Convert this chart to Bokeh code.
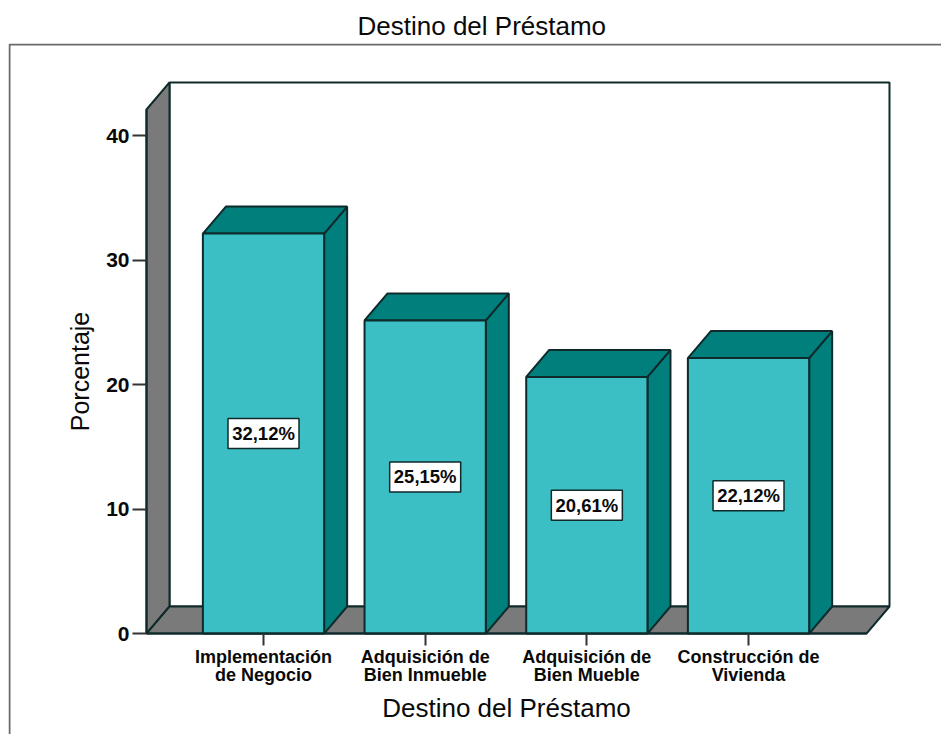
from bokeh.core.properties import value
from bokeh.embed import file_html
from bokeh.models import ColumnDataSource, FixedTicker, Label, Range1d
from bokeh.plotting import figure
from bokeh.resources import INLINE

# Loan purposes and their share of the total, in percent
categories = ["Implementación\nde Negocio", "Adquisición de\nBien Inmueble",
              "Adquisición de\nBien Mueble", "Construcción de\nVivienda"]
percentages = [32.12, 25.15, 20.61, 22.12]
percent_labels = ["32,12%", "25,15%", "20,61%", "22,12%"]
y_ticks = [0, 10, 20, 30, 40]

TITLE = "Destino del Préstamo"
Y_LABEL = "Porcentaje"

FONT = "Liberation Sans"
INK = "#0A0A0A"
FRONT = "#3BBFC4"
SHADE = "#007F7D"
WALL = "#7A7A7A"
EDGE = "#0E2A2B"

# View limits: the plot area fills the chart's outer frame, axes sit inside it
VIEW_X = (-1.5773, 4.1937)
VIEW_Y = (-8.11, 47.39)

# Extent of the plot box and the oblique offset that fakes its depth
X_MIN, X_MAX = -0.7237, 3.872
Y_MIN, Y_MAX = 0.0, 44.26
DEPTH_X, DEPTH_Y = 0.1423, 2.17
BAR_HALF = 0.375

p = figure(width=941, height=734, output_backend="svg", toolbar_location=None,
           x_range=Range1d(*VIEW_X), y_range=Range1d(*VIEW_Y),
           min_border_left=8, min_border_right=0, min_border_top=43, min_border_bottom=0,
           background_fill_color="white", border_fill_color="white", outline_line_color=None)
p.grid.visible = False

front_right = X_MAX - DEPTH_X
front_top = Y_MAX - DEPTH_Y

# Chart title above the frame
p.title.text = TITLE
p.title.align = "left"
p.title.offset = 349
p.title.standoff = 6
p.title.text_font = FONT
p.title.text_font_size = "26px"
p.title.text_font_style = "normal"
p.title.text_color = INK

# Outer frame: only its left and top sides fall inside the page
frame_left = VIEW_X[0] + 0.0062
frame_top = VIEW_Y[1] - 0.08
p.line([frame_left, frame_left, VIEW_X[1]], [VIEW_Y[0], frame_top, frame_top],
       line_color="#6A6A6A", line_width=2)

# Back wall, left wall and floor of the box
p.patch([X_MIN + DEPTH_X, X_MAX, X_MAX, X_MIN + DEPTH_X],
        [DEPTH_Y, DEPTH_Y, Y_MAX, Y_MAX],
        fill_color="white", line_color=EDGE, line_width=2)
p.patch([X_MIN, X_MIN + DEPTH_X, X_MIN + DEPTH_X, X_MIN],
        [0, DEPTH_Y, Y_MAX, front_top],
        fill_color=WALL, line_color=EDGE, line_width=2)
p.patch([X_MIN, front_right, X_MAX, X_MIN + DEPTH_X],
        [0, 0, DEPTH_Y, DEPTH_Y],
        fill_color=WALL, line_color=EDGE, line_width=2)

# Oblique bars: side and top faces first, then the front
positions = list(range(len(percentages)))
side_xs, side_ys, top_xs, top_ys = [], [], [], []
for pos, val in zip(positions, percentages):
    right = pos + BAR_HALF
    left = pos - BAR_HALF
    side_xs.append([right, right + DEPTH_X, right + DEPTH_X, right])
    side_ys.append([0, DEPTH_Y, val + DEPTH_Y, val])
    top_xs.append([left, right, right + DEPTH_X, left + DEPTH_X])
    top_ys.append([val, val, val + DEPTH_Y, val + DEPTH_Y])

p.patches(side_xs, side_ys, fill_color=SHADE, line_color=EDGE, line_width=2)
p.patches(top_xs, top_ys, fill_color=SHADE, line_color=EDGE, line_width=2)
p.vbar(x=positions, top=percentages, bottom=0, width=BAR_HALF * 2,
       fill_color=FRONT, line_color=EDGE, line_width=2)

# Value tags at half the height of each bar
tags = ColumnDataSource(dict(x=positions, y=[v / 2 for v in percentages], text=percent_labels))
p.rect("x", "y", width=71, height=30, width_units="screen", height_units="screen", source=tags,
       fill_color="white", line_color=EDGE, line_width=1.5)
p.text("x", "y", text="text", source=tags, text_align="center", text_baseline="middle",
       text_font=value(FONT), text_font_style="bold", text_font_size="18.5px", text_color=INK)

# Axes pinned to the front edges of the box
xaxis = p.xaxis[0]
xaxis.fixed_location = 0
xaxis.ticker = FixedTicker(ticks=positions)
xaxis.major_label_overrides = {i: c for i, c in zip(positions, categories)}
xaxis.bounds = (X_MIN, front_right)
xaxis.major_tick_out = 12
xaxis.major_tick_in = 0
xaxis.minor_tick_out = 0
xaxis.major_label_standoff = 1
xaxis.major_label_text_font = FONT
xaxis.major_label_text_font_style = "bold"
xaxis.major_label_text_font_size = "18px"
xaxis.major_label_text_line_height = 0.92
xaxis.major_label_text_color = INK
xaxis.axis_line_color = EDGE
xaxis.axis_line_width = 2
xaxis.major_tick_line_color = "#333333"
xaxis.major_tick_line_width = 2

yaxis = p.yaxis[0]
yaxis.fixed_location = X_MIN
yaxis.ticker = FixedTicker(ticks=y_ticks)
yaxis.bounds = (0, front_top)
yaxis.major_tick_out = 14
yaxis.major_tick_in = 0
yaxis.minor_tick_out = 0
yaxis.major_label_standoff = 3
yaxis.major_label_text_font = FONT
yaxis.major_label_text_font_style = "bold"
yaxis.major_label_text_font_size = "21px"
yaxis.major_label_text_color = INK
yaxis.axis_line_color = EDGE
yaxis.axis_line_width = 2
yaxis.major_tick_line_color = "#333333"
yaxis.major_tick_line_width = 2

# Axis names centred on the front of the box
p.add_layout(Label(x=(X_MIN + front_right) / 2, y=-6.02, text=TITLE,
                   text_align="center", text_baseline="middle", text_font=FONT,
                   text_font_size="26px", text_color=INK))
p.add_layout(Label(x=-1.138, y=front_top / 2, text=Y_LABEL,
                   angle=90, angle_units="deg", text_align="center", text_baseline="middle",
                   text_font=FONT, text_font_size="25px", text_color=INK))

open("out.html", "w").write(file_html(p, INLINE))
